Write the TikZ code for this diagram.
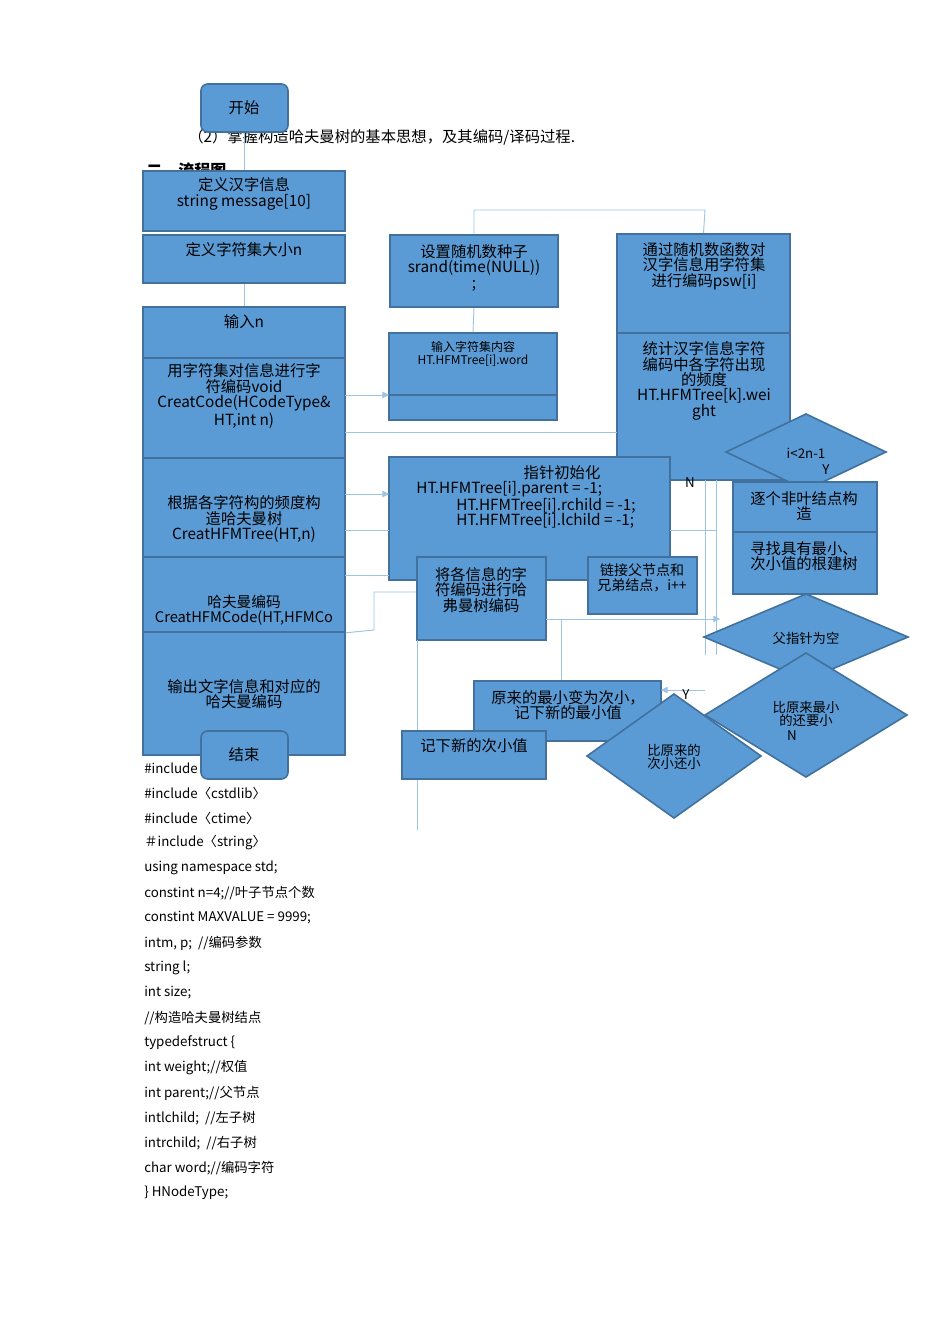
\documentclass[tikz,border=0pt]{standalone}
\usepackage{fontspec}
\setmainfont{Noto Sans CJK SC}
\usetikzlibrary{fit,arrows.meta,calc}
\definecolor{bfill}{HTML}{5B9BD5}
\definecolor{bedge}{HTML}{41719C}
\definecolor{lnk}{HTML}{9DC3E6}
\tikzset{
 bx/.style={draw=bedge,fill=bfill,line width=1.2pt,inner sep=0pt},
 rbx/.style={bx,rounded corners=5pt},
 tx/.style={align=center,font=\fontsize{11.5}{11.5}\selectfont,inner sep=0pt},
 cd/.style={anchor=west,font=\fontsize{10}{12}\selectfont,inner sep=0pt},
 ln/.style={draw=lnk,line width=0.7pt},
 ar/.style={ln,-{Triangle[length=5pt,width=5pt]}},
 dia/.style={draw=bedge,fill=bfill,line width=1.2pt}
}
\newcommand{\bx}[6][bx]{\path (#3,#4) coordinate (#2-nw) (#5,#6) coordinate (#2-se);
 \node[#1,fit=(#2-nw)(#2-se)] (#2) {};}
\newcommand{\dm}[5]{\path (#2,#3) coordinate (#1);
 \draw[dia] ($(#1)+(-#4,0)$) -- ($(#1)+(0,-#5)$) -- ($(#1)+(#4,0)$) -- ($(#1)+(0,#5)$) -- cycle;}
\begin{document}
\begin{tikzpicture}[x=0.75pt,y=-0.75pt]
\fill[white] (0,0) rectangle (950,1344);
\useasboundingbox (0,0) rectangle (950,1344);
\node[cd,font=\fontsize{11.5}{12}\selectfont] (t1) at (188,137) {（2）掌握构造哈夫曼树的基本思想，及其编码/译码过程.};
\node[cd,font=\bfseries\fontsize{12}{12}\selectfont] (t2) at (146,170) {二、流程图};
\foreach \y/\s [count=\i] in {768/{\#include〈iostream〉},793/{\#include〈cstdlib〉},818/{\#include〈ctime〉},843/{＃include〈string〉},868/{using namespace std;},893/{constint n=4;//叶子节点个数},918/{constint MAXVALUE = 9999;},943/{intm, p;\ \ //编码参数},968/{string l;},993/{int size;},1018/{//构造哈夫曼树结点},1043/{typedefstruct \{},1068/{int weight;//权值},1093/{int parent;//父节点},1118/{intlchild;\ \ //左子树},1143/{intrchild;\ \ //右子树},1168/{char word;//编码字符},1193/{\} HNodeType;}}
 \node[cd] (c\i) at (144,\y) {\s};
\coordinate (p1) at (474,210); \coordinate (p2) at (705,210);
\coordinate (q1) at (374,630); \coordinate (q2) at (374,592);
\coordinate (bot) at (417,830);
\bx{A}{143}{171}{345}{231}
\bx{B}{143}{235}{345}{283}
\bx{C}{143}{307}{345}{358}
\bx{D}{143}{358}{345}{458}
\bx{E}{143}{458}{345}{557}
\bx{F}{143}{557}{345}{632}
\bx{G}{143}{632}{345}{755}
\bx{H}{390}{235}{558}{307}
\bx{I}{389}{333}{557}{395}
\bx{I2}{389}{395}{557}{420}
\bx{J}{617}{234}{790}{333}
\bx{K}{617}{333}{790}{480}
\draw[ln] (H.north) -- (p1) -- (p2) -- (J.north);
\draw[ln] (H.south) -- (I.north);
\draw[ln] (B.south) -- (C.north);
\draw[ar] (345,395) -- (389,395);
\draw[ln] (345,432) -- (617,432);
\dm{d1}{806}{452}{80}{38}
\bx{L}{389}{457}{670}{580}
\draw[ar] (345,494) -- (389,494);
\draw[ln] (345,530) -- (389,530);
\draw[ln] (345,575) -- (389,575);
\draw[ln] (F.south east) -- (q1) -- (q2) -- (417,592);
\draw[ln] (670,530) -- (716,530);
\draw[ln] (705,480) -- (705,655); \draw[ln] (716,480) -- (716,655);
\bx{M}{417}{557}{546}{640}
\bx{N}{588}{557}{697}{614}
\bx{O}{733}{482}{877}{532}
\bx{P}{733}{532}{877}{594}
\draw[ar] (546,619) -- (720,619);
\draw[ln] (561,619) -- (561,691);
\draw[ln] (417,640) -- (bot);
\dm{d2}{806}{637}{102}{43}
\dm{d3}{806}{715}{101}{62}
\bx{Q}{474}{681}{661}{741}
\draw[ar] (705,690) -- (661,690);
\bx{R}{402}{731}{546}{779}
\dm{d4}{674}{756}{87}{62}
\draw[ln] (244,132) -- (A.north);
\node[rbx,minimum width=65.25pt,minimum height=36pt] (S) at (244.5,108) {};
\node[rbx,minimum width=65.25pt,minimum height=36pt] (E2) at (244.5,755) {};
\node[tx] at (244,108) {开始};
\node[tx] at (244,755) {结束};
\node[tx] at (244,194) {定义汉字信息\\string message[10]};
\node[tx] at (244,250) {定义字符集大小n};
\node[tx] at (244,322) {输入n};
\node[tx] at (244,396) {用字符集对信息进行字\\符编码void\\CreatCode(HCodeType\&\\HT,int n)};
\node[tx] at (244,519) {根据各字符构的频度构\\造哈夫曼树\\CreatHFMTree(HT,n)};
\node[tx,font=\fontsize{11}{11.5}\selectfont] at (244,610) {哈夫曼编码\\CreatHFMCode(HT,HFMCo};
\node[tx] at (244,694) {输出文字信息和对应的\\哈夫曼编码};
\node[tx] at (474,268) {设置随机数种子\\srand(time(NULL))\\;};
\node[tx,font=\fontsize{9}{10}\selectfont] at (473,354) {输入字符集内容\\HT.HFMTree[i].word};
\node[tx] at (704,266) {通过随机数函数对\\汉字信息用字符集\\进行编码psw[i]};
\node[tx] at (704,381) {统计汉字信息字符\\编码中各字符出现\\的频度\\HT.HFMTree[k].wei\\ght};
\node[tx,font=\fontsize{10}{10}\selectfont] at (806,453) {i<2n-1};
\node[tx,align=left] at (526,497) {\hspace*{7em}指针初始化\\HT.HFMTree[i].parent = -1;\\\hspace*{2.6em}HT.HFMTree[i].rchild = -1;\\\hspace*{2.6em}HT.HFMTree[i].lchild = -1;};
\node[tx] at (481,590) {将各信息的字\\符编码进行哈\\弗曼树编码};
\node[tx,font=\fontsize{10.5}{11}\selectfont] at (642,578) {链接父节点和\\兄弟结点，i++};
\node[tx] at (804,506) {逐个非叶结点构\\造};
\node[tx] at (804,556) {寻找具有最小、\\次小值的根建树};
\node[tx,font=\fontsize{10}{10}\selectfont] at (806,638) {父指针为空};
\node[tx,font=\fontsize{10}{10}\selectfont] at (806,714) {比原来最小\\的还要小};
\node[tx] at (568,705) {原来的最小变为次小，\\记下新的最小值};
\node[tx] at (474,746) {记下新的次小值};
\node[tx,font=\fontsize{10}{10}\selectfont] at (674,757) {比原来的\\次小还小};
\node[tx,font=\fontsize{10}{10}\selectfont] at (690,483) {N};
\node[tx,font=\fontsize{10}{10}\selectfont] at (826,470) {Y};
\node[tx,font=\fontsize{10}{10}\selectfont] at (686,695) {Y};
\node[tx,font=\fontsize{10}{10}\selectfont] at (792,736) {N};
\end{tikzpicture}
\end{document}
